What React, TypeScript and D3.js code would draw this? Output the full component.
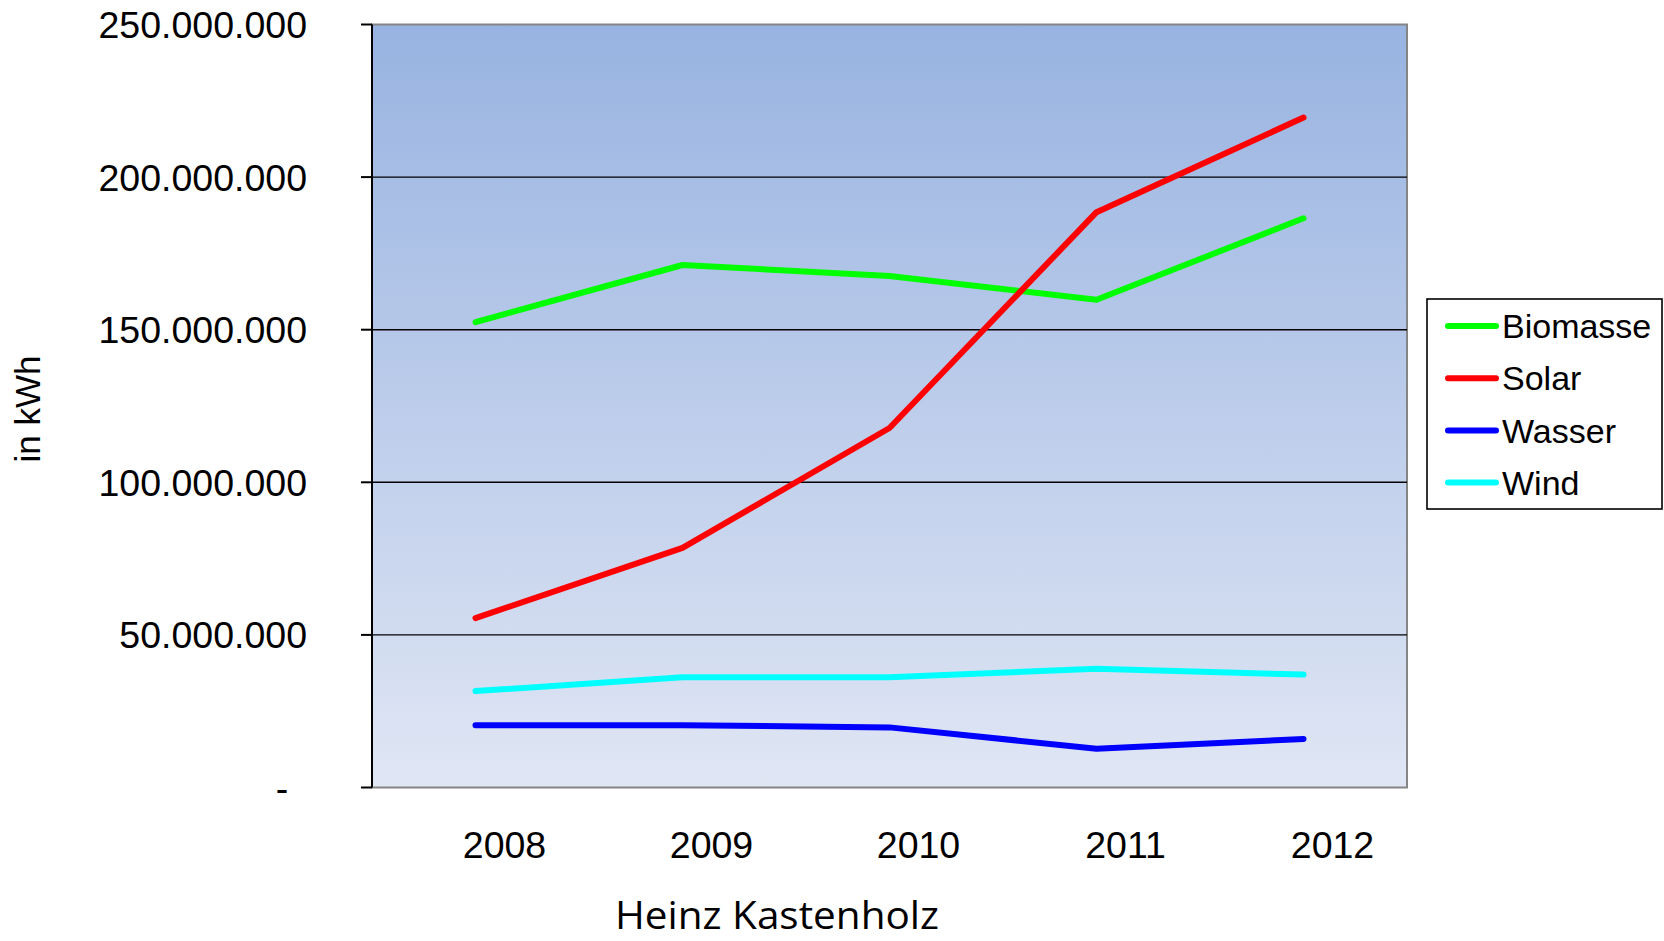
import React from "react";
import * as d3 from "d3";

// Jahre und Stromerzeugung aus erneuerbaren Quellen (kWh)
const years = ["2008", "2009", "2010", "2011", "2012"];
const biomasse = [152.5e6, 171.2e6, 167.6e6, 159.8e6, 186.5e6];
const solar = [55.5e6, 78.5e6, 117.8e6, 188.5e6, 219.5e6];
const wasser = [20.4e6, 20.4e6, 19.7e6, 12.7e6, 15.9e6];
const wind = [31.6e6, 36.1e6, 36.1e6, 38.9e6, 37.0e6];
const yTicks = [0, 50e6, 100e6, 150e6, 200e6, 250e6];

const seriesNames = ["Biomasse", "Solar", "Wasser", "Wind"];
const seriesColors = ["#00ff00", "#ff0000", "#0000ff", "#00ffff"];
const seriesValues = [biomasse, solar, wasser, wind];

const W = 1664;
const H = 941;
const plot = { left: 372, right: 1407, top: 24.5, bottom: 787.5 };

const de = d3.formatLocale({
  decimal: ",",
  thousands: ".",
  grouping: [3],
  currency: ["", ""],
});
const fmt = de.format(",.0f");
const tickLabel = (v: number) => (v === 0 ? "-" : fmt(v));

export default function App() {
  const x = d3
    .scaleBand<string>()
    .domain(years)
    .range([plot.left, plot.right]);
  const cx = (yr: string) => (x(yr) as number) + x.bandwidth() / 2;
  const y = d3.scaleLinear().domain([0, 250e6]).range([plot.bottom, plot.top]);

  const line = d3
    .line<number>()
    .x((_, i) => cx(years[i]))
    .y((d) => y(d));

  const arial = "Arial, 'Liberation Sans', sans-serif";

  return (
    <svg
      width={W}
      height={H}
      style={{ position: "absolute", left: 0, top: 0, display: "block", background: "#fff" }}
    >
      <defs>
        <linearGradient id="plotBg" x1="0" y1="0" x2="0" y2="1">
          <stop offset="0%" stopColor="#98b3e1" />
          <stop offset="100%" stopColor="#e0e6f4" />
        </linearGradient>
      </defs>

      {/* Plotfläche */}
      <rect
        x={plot.left}
        y={plot.top}
        width={plot.right - plot.left}
        height={plot.bottom - plot.top}
        fill="url(#plotBg)"
        stroke="#858585"
        strokeWidth={2}
      />

      {/* Gitterlinien */}
      {yTicks
        .filter((t) => t > 0 && t < 250e6)
        .map((t) => (
          <line
            key={"g" + t}
            x1={plot.left}
            x2={plot.right}
            y1={y(t)}
            y2={y(t)}
            stroke="#000"
            strokeWidth={1.4}
          />
        ))}

      {/* Y-Achse */}
      <line x1={plot.left} x2={plot.left} y1={plot.top} y2={plot.bottom} stroke="#000" strokeWidth={2} />
      {yTicks.map((t) => (
        <g key={"t" + t}>
          <line x1={plot.left - 11} x2={plot.left} y1={y(t)} y2={y(t)} stroke="#000" strokeWidth={2} />
          <text
            x={t === 0 ? 282 : 307}
            y={y(t)}
            dy="0.36em"
            textAnchor={t === 0 ? "middle" : "end"}
            fontFamily={arial}
            fontSize={37.5}
            fill="#000"
          >
            {tickLabel(t)}
          </text>
        </g>
      ))}

      {/* Jahre */}
      {years.map((yr) => (
        <text
          key={yr}
          x={cx(yr) + 29}
          y={858}
          textAnchor="middle"
          fontFamily={arial}
          fontSize={37.5}
          fill="#000"
        >
          {yr}
        </text>
      ))}

      {/* Achsentitel */}
      <text
        transform={`translate(40, 409) rotate(-90)`}
        textAnchor="middle"
        fontFamily={arial}
        fontSize={35}
        fill="#000"
      >
        in kWh
      </text>
      <text
        x={777}
        y={929}
        textAnchor="middle"
        fontFamily="'Open Sans', sans-serif"
        fontSize={39}
        textLength={324}
        lengthAdjust="spacingAndGlyphs"
        fill="#000"
      >
        Heinz Kastenholz
      </text>

      {/* Datenreihen */}
      {seriesValues.map((vals, i) => (
        <path
          key={seriesNames[i]}
          d={line(vals) || ""}
          fill="none"
          stroke={seriesColors[i]}
          strokeWidth={6}
          strokeLinecap="round"
          strokeLinejoin="round"
        />
      ))}

      {/* Legende */}
      <rect x={1427} y={299} width={235} height={210} fill="#fff" stroke="#000" strokeWidth={1.6} />
      {seriesNames.map((name, i) => {
        const ry = 326 + i * 52.2;
        return (
          <g key={"l" + name}>
            <line
              x1={1448}
              x2={1496}
              y1={ry}
              y2={ry}
              stroke={seriesColors[i]}
              strokeWidth={6}
              strokeLinecap="round"
            />
            <text x={1502} y={ry} dy="0.36em" fontFamily={arial} fontSize={34} fill="#000">
              {name}
            </text>
          </g>
        );
      })}
    </svg>
  );
}
